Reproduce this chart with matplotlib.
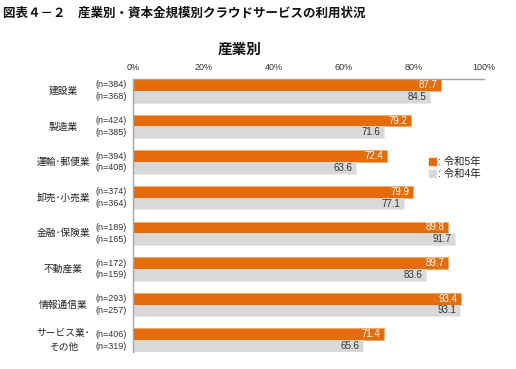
import matplotlib
matplotlib.use('Agg')
import matplotlib.pyplot as plt
import numpy as np

plt.rcParams['font.family'] = ['Liberation Sans', 'Noto Sans CJK JP', 'DejaVu Sans']

categories = ['建設業', '製造業', '運輸･郵便業', '卸売･小売業',
              '金融･保険業', '不動産業', '情報通信業', 'サービス業･\nその他']
n_r5 = [384, 424, 394, 374, 189, 172, 293, 406]
n_r4 = [368, 385, 408, 364, 165, 159, 257, 319]
vals_r5 = [87.7, 79.2, 72.4, 79.9, 89.8, 89.7, 93.4, 71.4]
vals_r4 = [84.5, 71.6, 63.6, 77.1, 91.7, 83.6, 93.1, 65.6]
series_names = ['令和5年', '令和4年']
xticks = [0, 20, 40, 60, 80, 100]

orange = '#E46C0A'
gray = '#D9D9D9'
h = 0.33

fig = plt.figure(figsize=(5.16, 3.69), dpi=100)
W, H = 516, 369
ax = fig.add_axes([133 / W, 1 - 352 / H, (484 - 133) / W, (352 - 79) / H])

y = np.arange(len(categories))
ax.barh(y, vals_r5, height=h, align='edge', color=orange, edgecolor='#F4A460', linewidth=0.4)
ax.barh(y + h, vals_r4, height=h, align='edge', color=gray, edgecolor='#E8E8E8', linewidth=0.4)

ax.set_xlim(0, 100)
ax.set_ylim(2 * h + len(categories) - 1, 0)

for i in range(len(categories)):
    ax.text(vals_r5[i] - 1.0, y[i] + h / 2, f'{vals_r5[i]:.1f}', ha='right', va='center',
            color='white', fontsize=7)
    ax.text(vals_r4[i] - 1.0, y[i] + 1.5 * h, f'{vals_r4[i]:.1f}', ha='right', va='center',
            color='#333333', fontsize=7)
    # n labels to the left of the axis
    ax.text(-1.8, y[i] + h / 2, f'(n={n_r5[i]})', ha='right', va='center',
            fontsize=6.5, color='#333333')
    ax.text(-1.8, y[i] + 1.5 * h, f'(n={n_r4[i]})', ha='right', va='center',
            fontsize=6.5, color='#333333')
    ax.text(-19.8, y[i] + h, categories[i], ha='center', va='center',
            fontsize=7, color='#222222', linespacing=1.5)

ax.xaxis.tick_top()
ax.set_xticks(xticks)
ax.set_xticklabels([f'{t}%' for t in xticks], fontsize=6.5, color='#333333')
ax.tick_params(axis='x', length=0, pad=5)
ax.set_yticks([])
for s in ['right', 'bottom']:
    ax.spines[s].set_visible(False)
for s in ['top', 'left']:
    ax.spines[s].set_color('#A6A6A6')
    ax.spines[s].set_linewidth(1.0)

# legend
fig.patches.append(plt.Rectangle((429 / W, 1 - 165 / H), 7 / W, 7 / H,
                                 transform=fig.transFigure, color=orange))
fig.patches.append(plt.Rectangle((429 / W, 1 - 177 / H), 7 / W, 7 / H,
                                 transform=fig.transFigure, color=gray))
fig.text(438 / W, 1 - 161.5 / H, ': ' + series_names[0], fontsize=7.5, va='center', color='#222222')
fig.text(438 / W, 1 - 173.5 / H, ': ' + series_names[1], fontsize=7.5, va='center', color='#222222')

fig.text(3 / W, 1 - 14 / H, '図表４－２　産業別・資本金規模別クラウドサービスの利用状況',
         fontsize=9, fontweight='bold', va='center', ha='left', color='#111111')
fig.text(240 / W, 1 - 50 / H, '産業別', fontsize=10.5, fontweight='bold', ha='center', va='center',
         color='#111111')

fig.savefig('out.png', dpi=100)
